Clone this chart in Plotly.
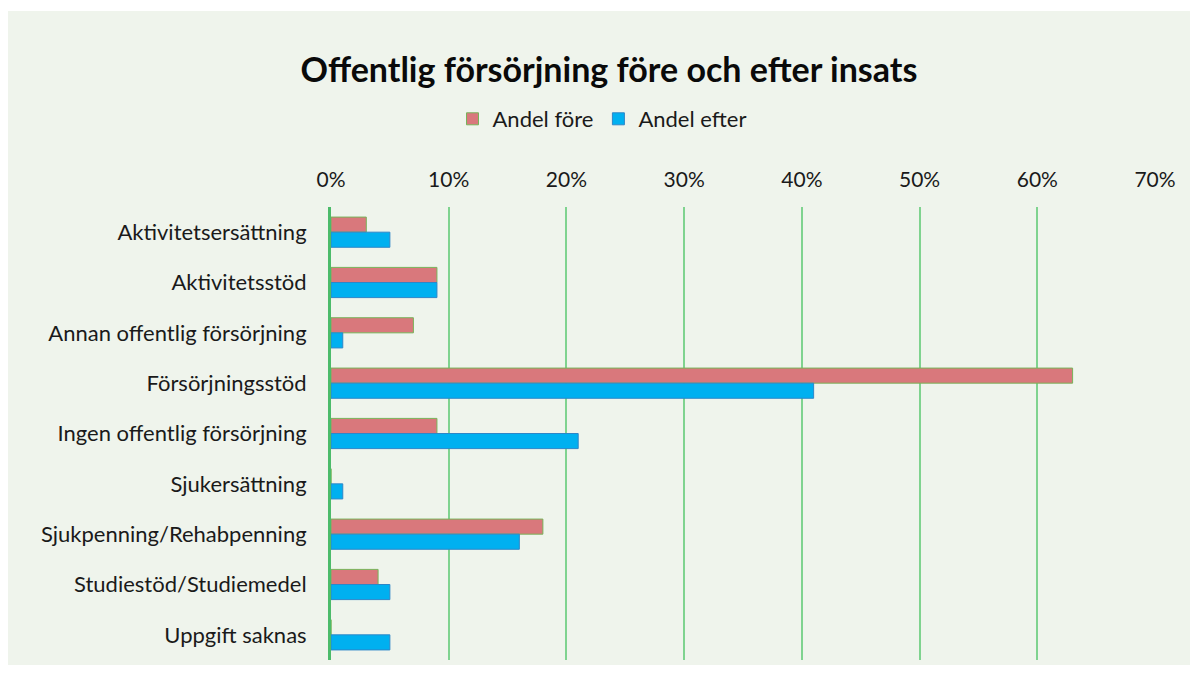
import plotly.graph_objects as go

categories = ["Aktivitetsersättning", "Aktivitetsstöd", "Annan offentlig försörjning",
              "Försörjningsstöd", "Ingen offentlig försörjning", "Sjukersättning",
              "Sjukpenning/Rehabpenning", "Studiestöd/Studiemedel", "Uppgift saknas"]
andel_fore = [3, 9, 7, 63, 9, 0, 18, 4, 0]
andel_efter = [5, 9, 1, 41, 21, 1, 16, 5, 5]
tick_vals = [0, 10, 20, 30, 40, 50, 60, 70]
tick_text = ["0%", "10%", "20%", "30%", "40%", "50%", "60%", "70%"]

BG = "#EFF4EC"
FONT = "Lato, 'Open Sans', sans-serif"

W, H = 1198, 675
L, R, T, B = 323, 51, 199, 23
PW = W - L - R
PH = H - T - B

fig = go.Figure()
fig.add_trace(go.Bar(
    y=categories, x=andel_fore, name="Andel före", orientation="h",
    marker=dict(color="#D9787C", line=dict(color="#78B35A", width=1)),
))
fig.add_trace(go.Bar(
    y=categories, x=andel_efter, name="Andel efter", orientation="h",
    marker=dict(color="#00B0F0", line=dict(color="#2E86C8", width=1)),
))

fig.update_layout(
    width=W, height=H,
    paper_bgcolor="white", plot_bgcolor=BG,
    margin=dict(l=L, r=R, t=T, b=B),
    barmode="group", bargap=0.4, bargroupgap=0,
    font=dict(family=FONT, size=22, color="#1a1a1a"),
    title=dict(text="<b>Offentlig försörjning före och efter insats</b>",
               x=601 / W, xref="container", xanchor="center",
               y=1 - 62 / H, yref="container", yanchor="middle",
               font=dict(size=34, color="#0a0a0a", family=FONT)),
    legend=dict(orientation="h", x=(594 - L) / PW, xref="paper", xanchor="center",
                y=1 + (T - 111) / PH, yanchor="middle", font=dict(size=22),
                bgcolor="rgba(0,0,0,0)", itemwidth=30, traceorder="normal"),
    xaxis=dict(side="top", range=[0, 70], tickvals=tick_vals, ticktext=tick_text,
               showgrid=True, gridcolor="#7FD38F", gridwidth=1.5, zeroline=False,
               ticks="", ticklabelstandoff=15, tickfont=dict(size=21), fixedrange=True),
    yaxis=dict(autorange="reversed", showline=True, linecolor="#4CBB6A", linewidth=3,
               ticks="", ticklabelstandoff=17, showgrid=False),
    shapes=[dict(type="rect", xref="paper", yref="paper",
                 x0=(0 - L) / PW, x1=(1182 - L) / PW,
                 y0=-(657 - (H - B)) / PH, y1=1 + (T - 3) / PH,
                 fillcolor=BG, line=dict(width=0), layer="below")],
    showlegend=True,
)

fig.write_html("out.html")
